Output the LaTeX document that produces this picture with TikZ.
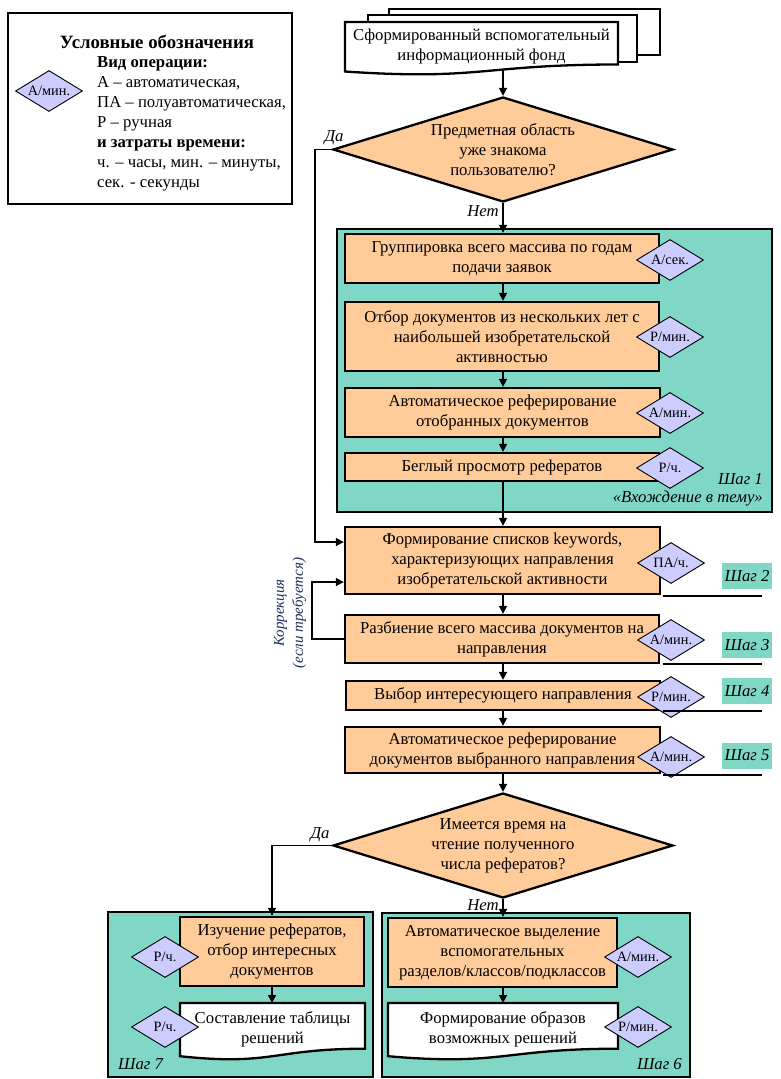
\documentclass[tikz,border=0pt]{standalone}
\usepackage{fontspec}
\setmainfont{Liberation Serif}
\usetikzlibrary{shapes.geometric,arrows.meta}
\definecolor{peach}{RGB}{255,204,153}
\definecolor{lav}{RGB}{204,204,255}
\definecolor{tealc}{RGB}{0,176,140}
\colorlet{tealbg}{tealc!50!white}
\definecolor{navy}{RGB}{31,47,95}
\newcommand\msz{\fontsize{16.7}{20}\selectfont}
\newcommand\ssz{\fontsize{14.3}{16}\selectfont}
\begin{document}
\begin{tikzpicture}[x=1pt,y=-1pt,
  box/.style={draw, line width=2.3pt, fill=peach, align=center, inner sep=0pt, font=\msz},
  wtext/.style={align=center, inner sep=0pt, font=\msz},
  tdiam/.style={diamond, draw, line width=0.9pt, fill=lav, inner sep=0pt, aspect=1.63, minimum width=67pt, minimum height=41pt, font=\ssz},
  ddiam/.style={diamond, draw, line width=2.3pt, fill=peach, inner sep=0pt, aspect=3.24, minimum width=340pt, minimum height=105pt, align=center, font=\msz},
  stepbg/.style={draw, line width=2.3pt, fill=tealbg},
  arr/.style={line width=1.6pt, -{Triangle[width=8pt,length=8pt]}},
  ln/.style={line width=1.6pt},
  docln/.style={line width=2.3pt, fill=white},
  lbl/.style={font=\msz\itshape, inner sep=0pt},
  steplbl/.style={fill=tealbg, font=\msz\itshape, minimum width=50pt, minimum height=26pt, inner sep=0pt},
]
\fill[white] (0,0) rectangle (781,1079);
\useasboundingbox (0,0) rectangle (781,1079);

% step backgrounds
\draw[stepbg] (337,229) rectangle (772,512);
\draw[stepbg] (108,912) rectangle (373,1077);
\draw[stepbg] (382,913) rectangle (690,1077);

% legend
\node[draw, line width=2.3pt, minimum width=284pt, minimum height=191pt, inner sep=0pt] (leg) at (150,108.5) {};
\node[font=\fontsize{18.8}{22}\selectfont\bfseries, inner sep=0pt] (legt) at (157,42) {Условные обозначения};
\node[tdiam] (legd) at (49,91) {А/мин.};
\node[anchor=west, align=left, font=\msz, inner sep=0pt] (legx) at (97,124) {\textbf{Вид операции:}\\А – автоматическая,\\ПА – полуавтоматическая,\\Р – ручная\\\textbf{и затраты времени:}\\ч. – часы, мин. – минуты,\\сек. - секунды};

% top document stack
\draw[docln] (389,9) rectangle (660,55);
\draw[docln] (368,15) rectangle (637,62);
\draw[docln] (345,22) -- (618,22) -- (618,64.5) .. controls (481.5,64.5) and (481.5,80.7) .. (345,71.5) -- cycle;
\node[wtext] (fond) at (481.5,46) {Сформированный вспомогательный\\информационный фонд};
\coordinate (fondbot) at (503,69.5);

% decision 1
\node[ddiam] (d1) at (503,149.5) {Предметная область\\уже знакома\\пользователю?};

% step 1 boxes
\node[box, minimum width=314pt, minimum height=49pt] (b1) at (502,258.5) {Группировка всего массива по годам\\подачи заявок};
\node[box, minimum width=314pt, minimum height=69pt] (b2) at (502,336.5) {Отбор документов из нескольких лет с\\наибольшей изобретательской\\активностью};
\node[box, minimum width=315pt, minimum height=49pt] (b3) at (502.5,412.5) {Автоматическое реферирование\\отобранных документов};
\node[box, minimum width=314pt, minimum height=28pt] (b4) at (502,467) {Беглый просмотр рефератов};
\node[tdiam] (t1) at (670,260) {А/сек.};
\node[tdiam] (t2) at (670,337) {Р/мин.};
\node[tdiam] (t3) at (670,413) {А/мин.};
\node[tdiam] (t4) at (670,468) {Р/ч.};
\node[lbl, anchor=east] (s1a) at (763,479) {Шаг 1};
\node[lbl, anchor=east] (s1b) at (763,499) {«Вхождение в тему»};

% steps 2-5
\node[box, minimum width=315pt, minimum height=67pt] (b5) at (502.5,560.5) {Формирование списков keywords,\\характеризующих направления\\изобретательской активности};
\node[box, minimum width=314pt, minimum height=48pt] (b6) at (502,639) {Разбиение всего массива документов на\\направления};
\node[box, minimum width=314pt, minimum height=29pt] (b7) at (503,695.5) {Выбор интересующего направления};
\node[box, minimum width=315pt, minimum height=46pt] (b8) at (502.5,750) {Автоматическое реферирование\\документов выбранного направления};
\node[tdiam] (t5) at (671,563) {ПА/ч.};
\node[tdiam] (t6) at (671,640) {А/мин.};
\node[tdiam] (t7) at (671,697) {Р/мин.};
\node[tdiam] (t8) at (671,757) {А/мин.};
\node[steplbl] (sl2) at (747,576) {Шаг 2};
\node[steplbl] (sl3) at (747,645) {Шаг 3};
\node[steplbl] (sl4) at (747,691) {Шаг 4};
\node[steplbl] (sl5) at (747,755.5) {Шаг 5};
\draw[ln] (663,596) -- (762,596);
\draw[ln] (663,664) -- (762,664);
\draw[ln] (663,711) -- (762,711);
\draw[ln] (663,775) -- (762,775);

% decision 2
\node[ddiam] (d2) at (503,845.5) {Имеется время на\\чтение полученного\\числа рефератов?};

% step 7
\node[box, minimum width=184pt, minimum height=69pt] (b9) at (272,951.5) {Изучение рефератов,\\отбор интересных\\документов};
\draw[docln] (180,1003) -- (365,1003) -- (365,1048.7) .. controls (272.5,1048.7) and (272.5,1066.1) .. (180,1056.2) -- cycle;
\node[wtext] (x10) at (272.5,1029) {Составление таблицы\\решений};
\coordinate (doc10top) at (272,1003);
\node[tdiam] (t9) at (165,957) {Р/ч.};
\node[tdiam] (t10) at (165,1027) {Р/ч.};
\node[lbl, anchor=west] (s7) at (118,1064) {Шаг 7};

% step 6
\node[box, minimum width=229pt, minimum height=69pt] (b11) at (502.5,952.5) {Автоматическое выделение\\вспомогательных\\разделов/классов/подклассов};
\draw[docln] (388,1003) -- (618,1003) -- (618,1048.7) .. controls (503,1048.7) and (503,1066.1) .. (388,1056.2) -- cycle;
\node[wtext] (x12) at (503,1029) {Формирование образов\\возможных решений};
\coordinate (doc12top) at (503,1003);
\node[tdiam] (t11) at (638,957) {А/мин.};
\node[tdiam] (t12) at (638,1027) {Р/мин.};
\node[lbl, anchor=east] (s6) at (682,1064) {Шаг 6};

% connectors
\draw[arr] (fondbot) -- (d1.north);
\draw[arr] (d1.south) -- (b1.north -| d1.south);
\draw[arr] (b1.south -| d1.south) -- (b2.north -| d1.south);
\draw[arr] (b2.south -| d1.south) -- (b3.north -| d1.south);
\draw[arr] (b3.south -| d1.south) -- (b4.north -| d1.south);
\draw[arr] (b4.south -| d1.south) -- (b5.north -| d1.south);
\draw[arr] (d1.west) -- ++(-17,0) |- ([yshift=18.5pt]b5.west);
\draw[arr] (b6.west) -- ++(-32,0) |- ([yshift=-21.5pt]b5.west);
\draw[arr] (b5.south -| d1.south) -- (b6.north -| d1.south);
\draw[arr] (b6.south -| d1.south) -- (b7.north -| d1.south);
\draw[arr] (b7.south -| d1.south) -- (b8.north -| d1.south);
\draw[arr] (b8.south -| d1.south) -- (d2.north);
\draw[arr] (d2.west) -| (b9.north);
\draw[arr] (d2.south) -- (b11.north -| d2.south);
\draw[arr] (b9.south) -- (doc10top);
\draw[arr] (b11.south -| d2.south) -- (doc12top);

% branch labels
\node[lbl] (da1) at (334,138) {Да};
\node[lbl] (net1) at (483,211) {Нет};
\node[lbl] (da2) at (320,835) {Да};
\node[lbl] (net2) at (483,905) {Нет};
\node[font=\fontsize{15}{19}\selectfont\itshape, text=navy, align=center, rotate=90, inner sep=0pt] (korr) at (290,613) {Коррекция\\(если требуется)};
\end{tikzpicture}
\end{document}
